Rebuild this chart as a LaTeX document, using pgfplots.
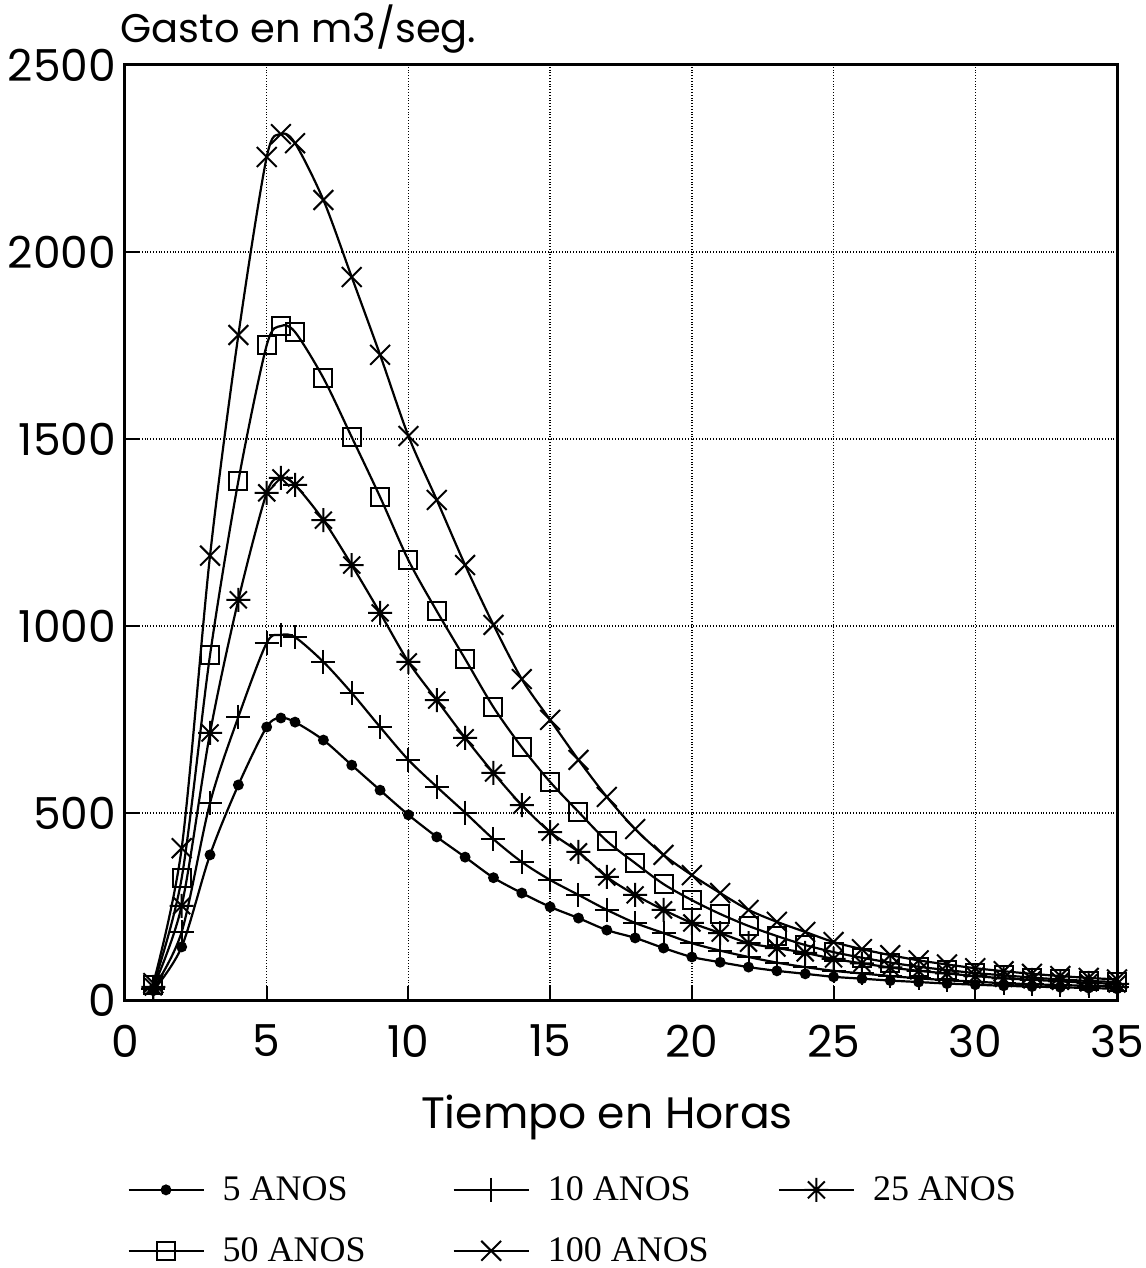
\documentclass[border=0pt]{standalone}
\usepackage{fontspec}
\setmainfont{Poppins}
\newfontfamily\legfont{Liberation Serif}
\usepackage{pgfplots}
\usepackage{pgfplotstable}
\pgfplotsset{compat=1.18}

% asterisk with eight arms
\pgfdeclareplotmark{star8}{%
  \pgfpathmoveto{\pgfqpoint{-\pgfplotmarksize}{0pt}}%
  \pgfpathlineto{\pgfqpoint{\pgfplotmarksize}{0pt}}%
  \pgfpathmoveto{\pgfqpoint{0pt}{-\pgfplotmarksize}}%
  \pgfpathlineto{\pgfqpoint{0pt}{\pgfplotmarksize}}%
  \pgfpathmoveto{\pgfqpoint{-.7071\pgfplotmarksize}{-.7071\pgfplotmarksize}}%
  \pgfpathlineto{\pgfqpoint{.7071\pgfplotmarksize}{.7071\pgfplotmarksize}}%
  \pgfpathmoveto{\pgfqpoint{-.7071\pgfplotmarksize}{.7071\pgfplotmarksize}}%
  \pgfpathlineto{\pgfqpoint{.7071\pgfplotmarksize}{-.7071\pgfplotmarksize}}%
  \pgfusepathqstroke}

\pgfplotstableread{
t    a5   a10  a25  a50  a100
1    25   30   35   40   45
2    142  182  252  326  406
3    388  527  714  922  1188
4    575  757  1070 1388 1778
5    730  955  1356 1751 2254
5.5  754  976  1396 1802 2315
6    743  970  1377 1786 2291
7    695  904  1283 1663 2139
8    628  821  1163 1505 1933
9    561  730  1035 1345 1725
10   495  642  904  1176 1508
11   436  570  802  1040 1337
12   382  501  701  912  1163
13   327  430  607  783  1003
14   286  369  521  676  858
15   249  321  449  583  749
16   219  281  396  503  642
17   187  241  329  425  543
18   166  206  281  366  457
19   139  179  241  310  388
20   115  152  206  267  334
21   101  132  179  230  286
22   88   115  152  198  241
23   78   100  139  171  209
24   70   88   126  147  182
25   62   78   110  128  155
26   57   71   98   113  136
27   52   64   87   100  120
28   48   58   78   89   106
29   44   53   71   80   95
30   41   49   64   72   85
31   38   45   58   66   77
32   36   42   54   60   70
33   34   40   50   55   64
34   32   38   46   51   59
35   30   36   43   48   55
}\gasto

\begin{document}
\begin{tikzpicture}
\path[use as bounding box] (-62.5pt,-134pt) rectangle (510pt,500pt);
\begin{axis}[
  at={(0,0)}, anchor=south west,
  scale only axis,
  width=496pt, height=467.5pt,
  xmin=0, xmax=35, ymin=0, ymax=2500,
  xtick={0,5,...,35},
  ytick={0,500,...,2500},
  grid=major,
  grid style={densely dotted, line width=0.7pt, black},
  axis line style={line width=1.5pt},
  tick style={black, line width=1pt},
  major tick length=7pt,
  tick pos=left,
  tick align=inside,
  /pgf/number format/assume math mode=true,
  /pgf/number format/1000 sep={},
  ticklabel style={font=\fontsize{22}{24}\selectfont},
  xticklabel style={yshift=-9pt},
  yticklabel style={xshift=-1pt},
  title={Gasto en m3/seg.},
  title style={at={(0,1)}, anchor=base west, xshift=-2.5pt, yshift=5pt,
    inner sep=0pt, font=\fontsize{20}{24}\selectfont},
  xlabel={Tiempo en Horas},
  xlabel style={at={(0.5,0)}, anchor=base, xshift=-7pt, yshift=-64pt,
    inner sep=0pt, font=\fontsize{22}{24}\selectfont},
  legend columns=3,
  legend cell align=left,
  legend style={at={(0,0)}, anchor=north west, xshift=1pt, yshift=-86pt,
    draw=none, fill=none, inner sep=0pt, row sep=13pt,
    font=\legfont\fontsize{18}{20}\selectfont},
  legend image code/.code={%
    \draw[mark repeat=2, mark phase=2] plot coordinates {(0pt,0pt) (18.75pt,0pt) (37.5pt,0pt)};},
  every axis plot/.append style={black, line width=1.1pt, smooth,
    mark options={solid, line width=1pt}},
]
\addplot[mark=*, mark size=2.2pt] table[x=t, y=a5] {\gasto};
\addlegendentry{\makebox[120pt][l]{\hspace{7pt}5 ANOS}}
\addplot[mark=+, mark size=6pt] table[x=t, y=a10] {\gasto};
\addlegendentry{\makebox[120pt][l]{\hspace{7pt}10 ANOS}}
\addplot[mark=star8, mark size=6pt] table[x=t, y=a25] {\gasto};
\addlegendentry{\makebox[120pt][l]{\hspace{7pt}25 ANOS}}
\addplot[mark=square, mark size=4.5pt] table[x=t, y=a50] {\gasto};
\addlegendentry{\makebox[120pt][l]{\hspace{7pt}50 ANOS}}
\addplot[mark=x, mark size=7pt] table[x=t, y=a100] {\gasto};
\addlegendentry{\makebox[120pt][l]{\hspace{7pt}100 ANOS}}
\end{axis}
\end{tikzpicture}
\end{document}
